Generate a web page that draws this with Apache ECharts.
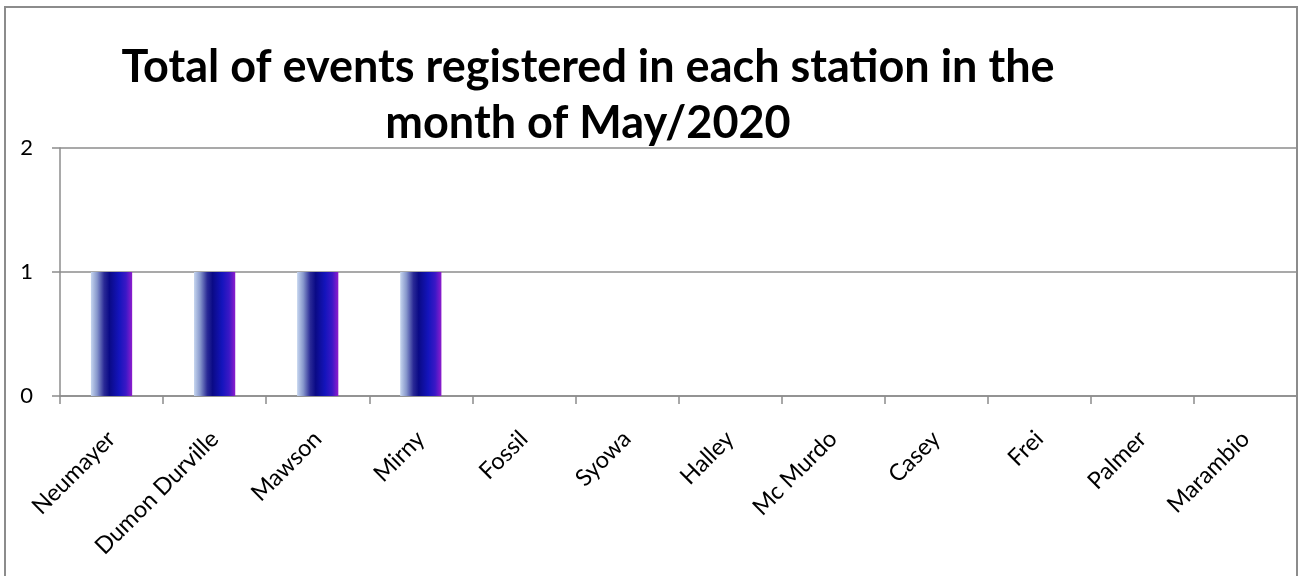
<!DOCTYPE html>
<html>
<head>
<meta charset="utf-8">
<script src="https://cdn.jsdelivr.net/npm/echarts@6/dist/echarts.min.js"></script>
<style>
html,body{margin:0;padding:0;background:#fff;}
#main{width:1303px;height:576px;}
</style>
</head>
<body>
<div id="main"></div>
<script>
var categories = ["Neumayer","Dumon Durville","Mawson","Mirny","Fossil","Syowa","Halley","Mc Murdo","Casey","Frei","Palmer","Marambio"];
var values = [1,1,1,1,0,0,0,0,0,0,0,0];
var titleText = "Total of events registered in each station in the\nmonth of May/2020";

var chart = echarts.init(document.getElementById('main'));
var barGradient = new echarts.graphic.LinearGradient(0,0,1,0,[
  {offset:0, color:'#c6d6ef'},
  {offset:0.15, color:'#8797cc'},
  {offset:0.32, color:'#2a2a96'},
  {offset:0.45, color:'#0a0a86'},
  {offset:0.68, color:'#1414bc'},
  {offset:0.85, color:'#3a18c6'},
  {offset:1, color:'#8e1ccc'}
]);
chart.setOption({
  animation:false,
  backgroundColor:'#fff',
  title:{
    text:titleText,
    left:583, top:34, textAlign:'center',
    textStyle:{fontFamily:'Lato', fontWeight:'bold', fontSize:45, lineHeight:56, color:'#000'}
  },
  graphic:[{
    type:'rect', silent:true, z:-1,
    shape:{x:5,y:7,width:1292,height:620},
    style:{fill:'none', stroke:'#8c8c8c', lineWidth:2}
  }],
  grid:{left:60, right:6, top:148, bottom:180},
  xAxis:{
    type:'category', data:categories,
    axisLine:{lineStyle:{color:'#8c8c8c', width:1.5}},
    axisTick:{show:true, length:8, lineStyle:{color:'#8c8c8c', width:1.5}},
    axisLabel:{rotate:45, margin:39, color:'#000', fontFamily:'Lato', fontSize:23.5, interval:0}
  },
  yAxis:{
    type:'value', min:0, max:2, interval:1,
    axisLine:{show:true, lineStyle:{color:'#8c8c8c', width:1.5}},
    axisTick:{show:true, length:8, lineStyle:{color:'#8c8c8c', width:1.5}},
    splitLine:{lineStyle:{color:'#8c8c8c', width:1.5}},
    axisLabel:{color:'#000', fontFamily:'Lato', fontSize:22, margin:27}
  },
  series:[{
    type:'bar', data:values, barWidth:'40%',
    itemStyle:{color:barGradient}
  }]
});
</script>
</body>
</html>
